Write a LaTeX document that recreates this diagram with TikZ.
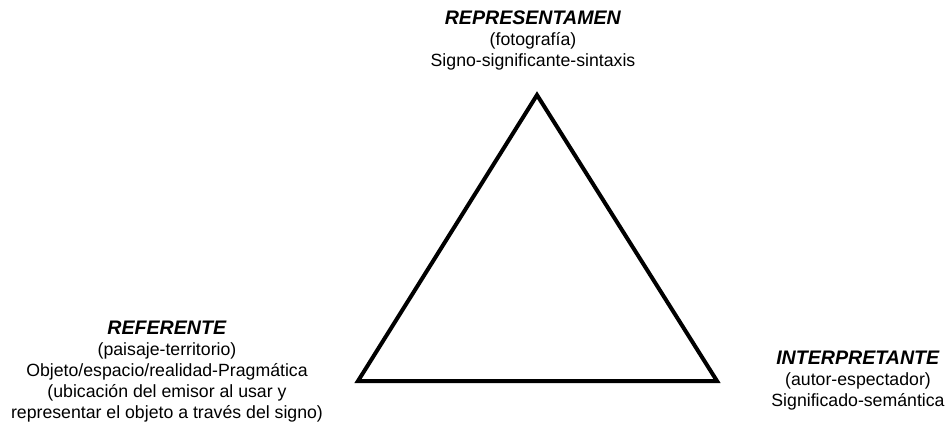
\documentclass[tikz,border=0pt]{standalone}
\usepackage{fontspec}
\setmainfont{Liberation Sans}
\newcommand{\headtxt}[1]{{\fontsize{19.6}{21}\selectfont\textbf{\textit{#1}}}}
\begin{document}
\begin{tikzpicture}[x=1pt,y=-1pt,
  lbl/.style={align=center,inner sep=0pt,anchor=north,font=\fontsize{17.7}{21}\selectfont},
  tri/.style={line width=4pt,line join=miter}]
\useasboundingbox (0,0) rectangle (950,428);
\coordinate (top) at (537,95);
\coordinate (left) at (358,381);
\coordinate (right) at (717,381);
\draw[tri] (top) -- (left) -- (right) -- cycle;
\node[lbl] (rep) at (533,11) {\headtxt{REPRESENTAMEN}\\(fotografía)\\Signo-significante-sintaxis};
\node[lbl] (ref) at (167,321) {\headtxt{REFERENTE}\\(paisaje-territorio)\\Objeto/espacio/realidad-Pragmática\\(ubicación del emisor al usar y\\representar el objeto a través del signo)};
\node[lbl] (int) at (858,351) {\headtxt{INTERPRETANTE}\\(autor-espectador)\\Significado-semántica};
\end{tikzpicture}
\end{document}
